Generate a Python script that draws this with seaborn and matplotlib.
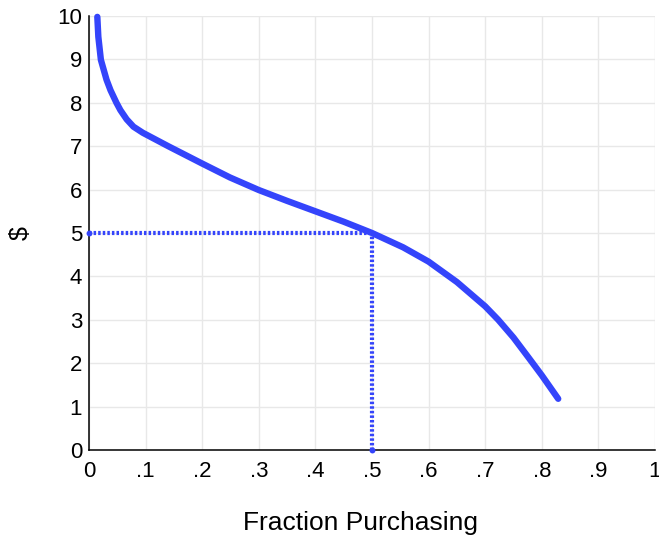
import matplotlib
matplotlib.use("Agg")
from matplotlib import pyplot as plt
from matplotlib.ticker import FixedLocator, FixedFormatter
import numpy as np
import pandas as pd
import seaborn as sns

# demand curve
fraction = [0.0147, 0.0165, 0.021, 0.031, 0.038, 0.0485, 0.0555, 0.0665, 0.0785, 0.095,
            0.140, 0.200, 0.249, 0.300, 0.350, 0.400, 0.450, 0.500, 0.525, 0.555,
            0.600, 0.650, 0.700, 0.723, 0.750, 0.776, 0.800, 0.829]
price = [9.98, 9.52, 8.99, 8.53, 8.29, 8.0, 7.83, 7.62, 7.45, 7.31,
         7.0, 6.60, 6.28, 5.99, 5.74, 5.50, 5.26, 5.0, 4.85, 4.67,
         4.34, 3.87, 3.31, 3.0, 2.59, 2.14, 1.72, 1.18]

# reference point marked with dotted guides
ref_x = 0.5
ref_y = 5

x_ticks = [0, 0.1, 0.2, 0.3, 0.4, 0.5, 0.6, 0.7, 0.8, 0.9, 1]
x_tick_labels = ["0", ".1", ".2", ".3", ".4", ".5", ".6", ".7", ".8", ".9", "1"]
y_ticks = list(range(0, 11))

blue = "#3444fb"

sns.set_style("whitegrid")
plt.rcParams['font.family'] = ['Liberation Sans', 'DejaVu Sans']

fig = plt.figure(figsize=(6.59, 5.43), dpi=100)
ax = fig.add_axes([89/659, 93/543, 566/659, 434/543])

df = pd.DataFrame({"fraction": fraction, "price": price})
sns.lineplot(data=df, x="fraction", y="price", sort=False, ax=ax, color=blue,
             linewidth=4.6, solid_capstyle="round", solid_joinstyle="round",
             clip_on=False, zorder=4)

# dotted guides
ax.plot([0, ref_x], [ref_y, ref_y], color=blue, linewidth=3.0,
        linestyle=(0, (0.6, 0.5)), dash_capstyle="butt", clip_on=False, zorder=3)
ax.plot([ref_x, ref_x], [0, ref_y], color=blue, linewidth=3.0,
        linestyle=(0, (0.6, 0.5)), dash_capstyle="butt", clip_on=False, zorder=3)
ax.scatter([0, ref_x], [ref_y, 0], s=18, color=blue, clip_on=False, zorder=5,
           linewidths=0)

ax.set_xlim(0, 1)
ax.set_ylim(0, 10)
ax.xaxis.set_major_locator(FixedLocator(x_ticks))
ax.xaxis.set_major_formatter(FixedFormatter(x_tick_labels))
ax.set_yticks(y_ticks)

ax.grid(True, color="#e8e8e8", linewidth=1.0)
for s in ["top", "right"]:
    ax.spines[s].set_visible(False)
for s in ["left", "bottom"]:
    ax.spines[s].set_color("black")
    ax.spines[s].set_linewidth(1.1)

ax.tick_params(axis="both", which="major", direction="in", length=5, width=1,
               color="black", labelsize=16, labelcolor="black")
ax.tick_params(axis="x", pad=8)
ax.tick_params(axis="y", pad=5)

ax.set_xlabel("Fraction Purchasing", fontsize=19, color="black")
ax.set_ylabel("$", fontsize=18, color="black")
ax.xaxis.set_label_coords(0.479, -0.14)
ax.yaxis.set_label_coords(-0.10, 0.5)

fig.savefig("out.png", dpi=100)
